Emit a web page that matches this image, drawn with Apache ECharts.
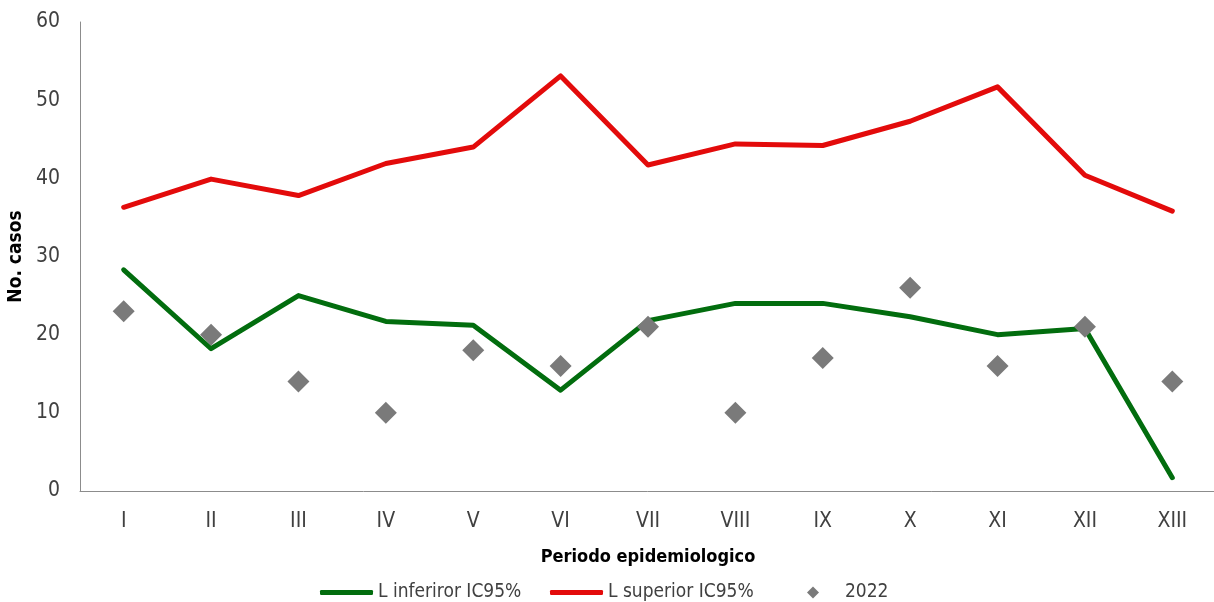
<!DOCTYPE html>
<html>
<head>
<meta charset="utf-8">
<script src="https://cdn.jsdelivr.net/npm/echarts@6/dist/echarts.min.js"></script>
<style>
  html, body { margin: 0; padding: 0; background: #ffffff; }
  #chart { width: 1214px; height: 602px; }
</style>
</head>
<body>
<div id="chart"></div>
<script>
// Epidemiological periods
const periods = ['I', 'II', 'III', 'IV', 'V', 'VI', 'VII', 'VIII', 'IX', 'X', 'XI', 'XII', 'XIII'];
// Lower 95% confidence limit
const lowerCI = [28.3, 18.2, 25.0, 21.7, 21.2, 12.9, 21.8, 24.0, 24.0, 22.3, 20.0, 20.8, 1.7];
// Upper 95% confidence limit
const upperCI = [36.3, 39.9, 37.8, 41.9, 44.0, 53.1, 41.7, 44.4, 44.2, 47.3, 51.7, 40.4, 35.8];
// Cases observed in 2022
const cases2022 = [23, 20, 14, 10, 18, 16, 21, 10, 17, 26, 16, 21, 14];
// Y axis range and step
const yMin = 0, yMax = 60, yStep = 10;

const FONT = '"DejaVu Sans Condensed", "Liberation Sans Narrow", "Arial Narrow", sans-serif';
const TEXT = '#404040';

const chart = echarts.init(document.getElementById('chart'), null, { renderer: 'canvas' });

chart.setOption({
  animation: false,
  backgroundColor: '#ffffff',
  textStyle: { fontFamily: FONT },
  grid: { left: 80, top: 22, width: 1136, height: 469, containLabel: false, outerBoundsMode: 'none' },
  xAxis: {
    type: 'category',
    data: periods,
    boundaryGap: true,
    name: 'Periodo epidemiologico',
    nameLocation: 'middle',
    nameGap: 57,
    nameTextStyle: { fontFamily: FONT, fontSize: 18, fontWeight: 'bold', color: '#000000' },
    axisLine: { lineStyle: { color: '#8c8c8c', width: 1 } },
    axisTick: { show: false },
    axisLabel: { fontFamily: FONT, fontSize: 21, color: TEXT, margin: 20 },
    splitLine: { show: false }
  },
  yAxis: {
    type: 'value',
    min: yMin,
    max: yMax,
    interval: yStep,
    name: 'No. casos',
    nameLocation: 'middle',
    nameGap: 52,
    nameRotate: 90,
    nameTextStyle: { fontFamily: FONT, fontSize: 19, fontWeight: 'bold', color: '#000000' },
    axisLine: { show: true, lineStyle: { color: '#8c8c8c', width: 1 } },
    axisTick: { show: false },
    axisLabel: { fontFamily: FONT, fontSize: 21, color: TEXT, margin: 20 },
    splitLine: { show: false }
  },
  legend: [
    {
      data: ['L inferiror IC95%'],
      left: 315, top: 578,
      itemWidth: 53, itemHeight: 5, icon: 'roundRect',
      textStyle: { fontFamily: FONT, fontSize: 19, color: TEXT }
    },
    {
      data: ['L superior IC95%'],
      left: 545, top: 578,
      itemWidth: 53, itemHeight: 5, icon: 'roundRect',
      textStyle: { fontFamily: FONT, fontSize: 19, color: TEXT }
    },
    {
      data: [{ name: '2022', icon: 'diamond' }],
      left: 802, top: 578,
      itemWidth: 12, itemHeight: 12,
      formatter: function (name) { return '{p|}' + name; },
      textStyle: { fontFamily: FONT, fontSize: 19, color: TEXT, rich: { p: { width: 21 } } }
    }
  ],
  series: [
    {
      name: 'L inferiror IC95%',
      type: 'line',
      data: lowerCI,
      symbol: 'none',
      z: 2,
      lineStyle: { color: '#026d0e', width: 5, cap: 'round', join: 'round' },
      itemStyle: { color: '#026d0e' }
    },
    {
      name: 'L superior IC95%',
      type: 'line',
      data: upperCI,
      symbol: 'none',
      z: 2,
      lineStyle: { color: '#e30b0b', width: 5, cap: 'round', join: 'round' },
      itemStyle: { color: '#e30b0b' }
    },
    {
      name: '2022',
      type: 'scatter',
      data: cases2022,
      symbol: 'diamond',
      symbolSize: 22,
      z: 5,
      itemStyle: { color: '#7a7a7a', opacity: 1 }
    }
  ]
});
</script>
</body>
</html>
